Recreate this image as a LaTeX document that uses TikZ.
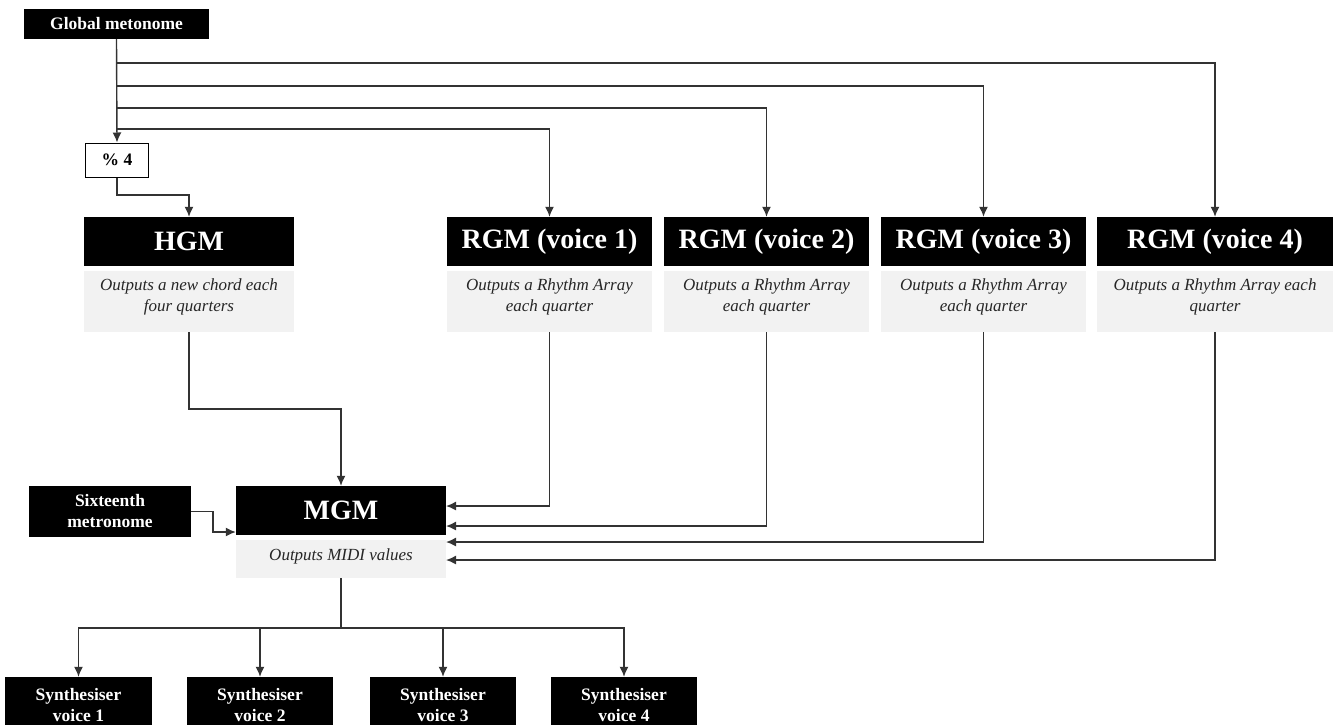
\documentclass[tikz,border=0pt]{standalone}
\usepackage{fontspec}
\setmainfont{Liberation Serif}
\usetikzlibrary{arrows.meta}
\definecolor{linegray}{HTML}{333333}
\definecolor{descgray}{HTML}{F2F2F2}
\tikzset{
  blackbox/.style={draw=none, fill=black, text=white, inner sep=0pt, align=center,
    font=\bfseries\fontsize{17.5}{21}\selectfont},
  hdrbox/.style={draw=none, fill=black, text=white, inner sep=0pt, align=center,
    minimum height=49pt, font=\bfseries\fontsize{28}{32}\selectfont},
  descbox/.style={draw=none, fill=descgray, inner sep=0pt},
  desctext/.style={inner sep=0pt, align=center, text=black!85,
    font=\itshape\fontsize{17}{21}\selectfont},
  modbox/.style={draw=black, line width=1pt, fill=white, inner sep=0pt,
    minimum width=63pt, minimum height=34pt, font=\bfseries\fontsize{17.5}{21}\selectfont},
  conn/.style={draw=linegray, line width=1.4pt},
  arr/.style={conn, -{Latex[length=10pt,width=9pt]}},
}
\begin{document}
\begin{tikzpicture}[x=1pt,y=-1pt]
\useasboundingbox (0,0) rectangle (1335,724);
\clip (0,0) rectangle (1335,724);

% top metronome
\node[blackbox, minimum width=185pt, minimum height=30pt] (gm) at (116.5,24) {Global metonome};
\node[modbox] (mod) at (117,160) {\% 4};

% headers
\node[hdrbox, minimum width=210pt] (hgm) at (189,241.5) {HGM};
\node[hdrbox, minimum width=205pt] (rgm1) at (549.5,241.5) {RGM (voice 1)};
\node[hdrbox, minimum width=205pt] (rgm2) at (766.5,241.5) {RGM (voice 2)};
\node[hdrbox, minimum width=205pt] (rgm3) at (983.5,241.5) {RGM (voice 3)};
\node[hdrbox, minimum width=236pt] (rgm4) at (1215,241.5) {RGM (voice 4)};

% description boxes
\node[descbox, minimum width=210pt, minimum height=61pt] (hgmd) at (189,301.5) {};
\node[descbox, minimum width=205pt, minimum height=61pt] (rgm1d) at (549.5,301.5) {};
\node[descbox, minimum width=205pt, minimum height=61pt] (rgm2d) at (766.5,301.5) {};
\node[descbox, minimum width=205pt, minimum height=61pt] (rgm3d) at (983.5,301.5) {};
\node[descbox, minimum width=236pt, minimum height=61pt] (rgm4d) at (1215,301.5) {};
\node[desctext] (hgmt) at (189,296.5) {Outputs a new chord each\\four quarters};
\node[desctext] (rgm1t) at (549.5,296.5) {Outputs a Rhythm Array\\each quarter};
\node[desctext] (rgm2t) at (766.5,296.5) {Outputs a Rhythm Array\\each quarter};
\node[desctext] (rgm3t) at (983.5,296.5) {Outputs a Rhythm Array\\each quarter};
\node[desctext] (rgm4t) at (1215,296.5) {Outputs a Rhythm Array each\\quarter};

% MGM
\node[hdrbox, minimum width=210pt] (mgm) at (341,510.5) {MGM};
\node[descbox, minimum width=210pt, minimum height=38pt] (mgmd) at (341,559) {};
\node[desctext] (mgmt) at (341,556) {Outputs MIDI values};
\node[blackbox, minimum width=162pt, minimum height=51pt] (six) at (110,511.5) {Sixteenth\\metronome};

% synthesisers
\node[blackbox, minimum width=147pt, minimum height=56pt] (syn1) at (78.5,705) {Synthesiser\\voice 1};
\node[blackbox, minimum width=146pt, minimum height=56pt] (syn2) at (260,705) {Synthesiser\\voice 2};
\node[blackbox, minimum width=146pt, minimum height=56pt] (syn3) at (443,705) {Synthesiser\\voice 3};
\node[blackbox, minimum width=146pt, minimum height=56pt] (syn4) at (624,705) {Synthesiser\\voice 4};

% coordinates
\coordinate (t4) at (117,63);
\coordinate (t3) at (117,86);
\coordinate (t2) at (117,108);
\coordinate (t1) at (117,129);
\coordinate (j1) at (117,195);
\coordinate (j2) at (189,409);
\coordinate (e1) at (446,506);
\coordinate (e2) at (446,526);
\coordinate (e3) at (446,542);
\coordinate (e4) at (446,560);
\coordinate (ka) at (213,532);
\coordinate (bus) at (341,628);

% connectors
\draw[arr] (gm.south) -- (mod.north);
\draw[arr] (t4) -| (rgm4.north);
\draw[arr] (t3) -| (rgm3.north);
\draw[arr] (t2) -| (rgm2.north);
\draw[arr] (t1) -| (rgm1.north);
\draw[arr] (mod.south) -- (j1) -| (hgm.north);
\draw[arr] (hgmd.south) -- (j2) -| (mgm.north);
\draw[arr] (rgm1d.south) |- (e1);
\draw[arr] (rgm2d.south) |- (e2);
\draw[arr] (rgm3d.south) |- (e3);
\draw[arr] (rgm4d.south) |- (e4);
\draw[arr] (six.east) -| (ka) -- (ka -| mgm.west);
\draw[conn] (mgmd.south) -- (bus);
\draw[arr] (bus) -| (syn1.north);
\draw[arr] (bus) -| (syn2.north);
\draw[arr] (bus) -| (syn3.north);
\draw[arr] (bus) -| (syn4.north);
\end{tikzpicture}
\end{document}
